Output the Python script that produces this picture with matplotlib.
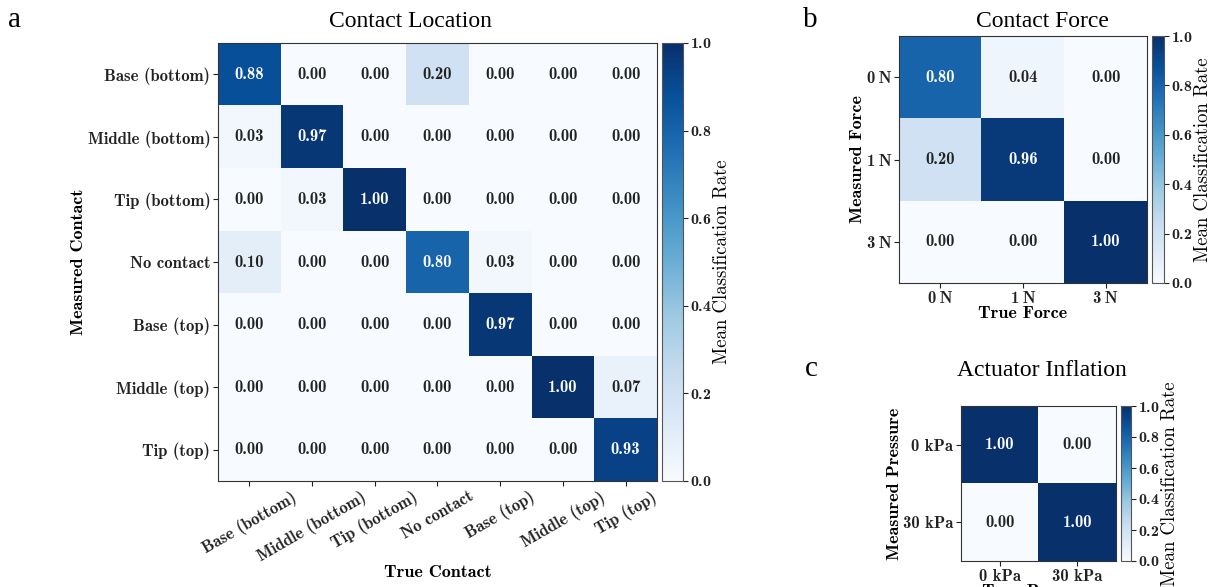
import matplotlib
matplotlib.use("Agg")
import matplotlib.pyplot as plt
import numpy as np

plt.rcParams['axes.formatter.use_mathtext'] = True

# ---- data ----
loc_labels = ["Base (bottom)", "Middle (bottom)", "Tip (bottom)", "No contact",
              "Base (top)", "Middle (top)", "Tip (top)"]
loc_rates = [
    [0.88, 0.00, 0.00, 0.20, 0.00, 0.00, 0.00],
    [0.03, 0.97, 0.00, 0.00, 0.00, 0.00, 0.00],
    [0.00, 0.03, 1.00, 0.00, 0.00, 0.00, 0.00],
    [0.10, 0.00, 0.00, 0.80, 0.03, 0.00, 0.00],
    [0.00, 0.00, 0.00, 0.00, 0.97, 0.00, 0.00],
    [0.00, 0.00, 0.00, 0.00, 0.00, 1.00, 0.07],
    [0.00, 0.00, 0.00, 0.00, 0.00, 0.00, 0.93],
]
force_labels = ["0\u2009N", "1\u2009N", "3\u2009N"]
force_rates = [
    [0.80, 0.04, 0.00],
    [0.20, 0.96, 0.00],
    [0.00, 0.00, 1.00],
]
pressure_labels = ["0 kPa", "30 kPa"]
pressure_rates = [
    [1.00, 0.00],
    [0.00, 1.00],
]

W, H = 1211, 587
BOLD = ['cmb10', 'DejaVu Serif']
REG = ['cmr10', 'DejaVu Serif']
TIMES = 'Liberation Serif'


def px(left, top, right, bottom):
    return [left / W, 1 - bottom / H, (right - left) / W, (bottom - top) / H]


def confusion(fig, box, cbox, rates, labels, xlabel, ylabel, rot=0):
    ax = fig.add_axes(px(*box))
    cax = fig.add_axes(px(*cbox))
    data = np.array(rates)
    im = ax.imshow(data, cmap='Blues', vmin=0, vmax=1, aspect='auto')
    n = len(labels)
    for i in range(n):
        for j in range(n):
            v = data[i, j]
            ax.text(j, i, f"{v:.2f}", ha='center', va='center', family=BOLD,
                    fontsize=12, color='white' if v > 0.5 else '#222222')
    ax.set_xticks(range(n))
    ax.set_yticks(range(n))
    ax.set_xticklabels(labels, family=BOLD, fontsize=12, rotation=rot)
    ax.set_yticklabels(labels, family=BOLD, fontsize=12)
    ax.set_xlabel(xlabel, family=BOLD, fontsize=13, labelpad=0)
    ax.set_ylabel(ylabel, family=BOLD, fontsize=13, labelpad=1)
    ax.tick_params(length=3.5, width=0.8, pad=2, colors='#222222')
    for s in ax.spines.values():
        s.set_color('#333333')
    cb = fig.colorbar(im, cax=cax, ticks=[0, 0.2, 0.4, 0.6, 0.8, 1.0])
    cb.outline.set_edgecolor('#555555')
    cax.tick_params(length=3.5, width=0.8, pad=1.5, colors='#222222')
    for t in cax.get_yticklabels():
        t.set_family(BOLD)
        t.set_fontsize(11.5)
    cb.set_label("Mean Classification Rate", family=REG, fontsize=13.5, labelpad=1)
    return ax


fig = plt.figure(figsize=(W / 100, H / 100), dpi=100)

confusion(fig, (218, 43, 657, 481), (662, 43, 683, 481), loc_rates, loc_labels,
          "True Contact", "Measured Contact", rot=30)
confusion(fig, (899, 36, 1147, 283), (1152, 36, 1164, 283), force_rates, force_labels,
          "True Force", "Measured Force")
confusion(fig, (961, 406, 1116, 561), (1121, 406, 1131, 561), pressure_rates, pressure_labels,
          "True Pressure", "Measured Pressure")

# titles and panel letters
fig.text(410 / W, 1 - 27 / H, "Contact Location", family=TIMES, fontsize=17,
         ha='center', va='baseline')
fig.text(1042 / W, 1 - 27 / H, "Contact Force", family=TIMES, fontsize=17,
         ha='center', va='baseline')
fig.text(1042 / W, 1 - 376 / H, "Actuator Inflation", family=TIMES, fontsize=17,
         ha='center', va='baseline')
fig.text(8 / W, 1 - 27 / H, "a", family=TIMES, fontsize=21, va='baseline')
fig.text(803 / W, 1 - 27 / H, "b", family=TIMES, fontsize=21, va='baseline')
fig.text(805 / W, 1 - 376 / H, "c", family=TIMES, fontsize=21, va='baseline')

fig.savefig("out.png", dpi=100)
